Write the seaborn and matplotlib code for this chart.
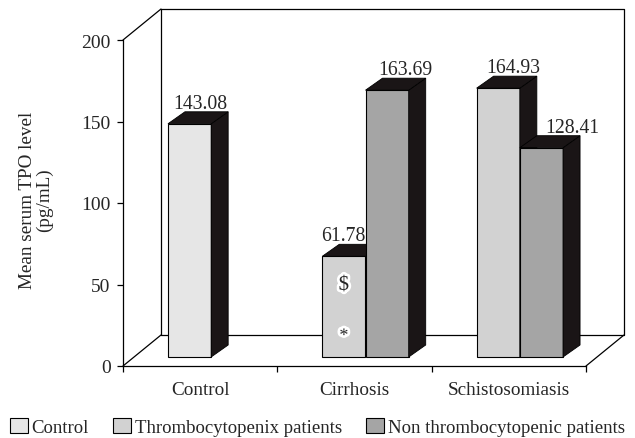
import numpy as np
import pandas as pd
import matplotlib
matplotlib.use("Agg")
import matplotlib.pyplot as plt
import matplotlib.transforms as mtransforms
import matplotlib.patheffects as pe
from matplotlib.patches import Polygon, Rectangle
from matplotlib.lines import Line2D
import seaborn as sns

# ---- data -------------------------------------------------------------
groups = ["Control", "Cirrhosis", "Schistosomiasis"]
series_names = ["Control", "Thrombocytopenix patients", "Non thrombocytopenic patients"]
control_values = [143.08, None, None]
thrombocytopenic_values = [None, 61.78, 164.93]
non_thrombocytopenic_values = [None, 163.69, 128.41]
y_ticks = [0, 50, 100, 150, 200]
y_label = "Mean serum TPO level\n(pg/mL)"

# significance marks drawn inside the cirrhosis thrombocytopenic bar
marks = [("Cirrhosis", "Thrombocytopenix patients", "$", 44),
         ("Cirrhosis", "Thrombocytopenix patients", "*", 13)]

# ---- style ------------------------------------------------------------
series_colors = {"Control": "#e6e6e6",
                 "Thrombocytopenix patients": "#d2d2d2",
                 "Non thrombocytopenic patients": "#a5a5a5"}
series_slot = {"Control": "left",
               "Thrombocytopenix patients": "left",
               "Non thrombocytopenic patients": "right"}
side_color = "#1a1516"
# horizontal nudge (px) of each value label relative to its bar
label_shift = {("Control", "Control"): 2,
               ("Cirrhosis", "Thrombocytopenix patients"): -9,
               ("Cirrhosis", "Non thrombocytopenic patients"): 10,
               ("Schistosomiasis", "Thrombocytopenix patients"): 7,
               ("Schistosomiasis", "Non thrombocytopenic patients"): 22}

rows = []
for name, vals in zip(series_names,
                      [control_values, thrombocytopenic_values, non_thrombocytopenic_values]):
    for g, v in zip(groups, vals):
        if v is not None:
            rows.append({"group": g, "series": name, "slot": series_slot[name], "value": v})
df = pd.DataFrame(rows)

sns.set_style("white")
plt.rcParams["font.family"] = ["Liberation Serif", "DejaVu Serif"]
plt.rcParams["font.size"] = 13.5

DPI = 100
fig = plt.figure(figsize=(6.35, 4.39), dpi=DPI)
W, H = 635, 439
ax = fig.add_axes([123 / W, 72 / H, 463 / W, 326 / H])
ax.patch.set_alpha(0)

sns.barplot(data=df, x="group", y="value", hue="slot", hue_order=["left", "right"],
            order=groups, width=0.56, dodge=True, errorbar=None, legend=False,
            palette={"left": "#d2d2d2", "right": "#a5a5a5"},
            edgecolor="black", linewidth=0.8, ax=ax)

ax.set_xlim(-0.5, 2.5)
ax.set_ylim(0, 200)
ax.set_xlabel("")
ax.set_ylabel("")

# front spines
for s in ["top", "right"]:
    ax.spines[s].set_visible(False)
for s in ["left", "bottom"]:
    ax.spines[s].set_color("black")
    ax.spines[s].set_linewidth(0.9)

ax.set_yticks(y_ticks)
ax.tick_params(axis="y", left=True, direction="out", length=4, width=0.9,
               color="black", pad=5, labelsize=14)
ax.set_xticks(range(len(groups)))
ax.set_xticklabels(groups)
ax.set_xticks(np.arange(-0.5, len(groups), 1.0), minor=True)
ax.tick_params(axis="x", which="major", length=0, pad=11, labelsize=13.8)
ax.tick_params(axis="x", which="minor", bottom=True, direction="out",
               length=4, width=0.9, color="black")

# plane in which the bars stand and the depth of each bar (px)
PLANE_DX, PLANE_DY = 11, 9
DEPTH_DX, DEPTH_DY = 17, 12
WALL_DX, WALL_DY = 38, 31
plane = ax.transData + mtransforms.ScaledTranslation(PLANE_DX / DPI, PLANE_DY / DPI,
                                                     fig.dpi_scale_trans)
ident = mtransforms.IdentityTransform()

# back wall and floor of the 3-D frame
wall = ax.transAxes + mtransforms.ScaledTranslation(WALL_DX / DPI, WALL_DY / DPI,
                                                    fig.dpi_scale_trans)
ax.add_line(Line2D([0, 1, 1, 0, 0], [0, 0, 1, 1, 0], transform=wall, color="black",
                   lw=0.9, clip_on=False, zorder=1))
for cx, cy in [(0, 1), (0, 0), (1, 0)]:
    fx, fy = ax.transAxes.transform((cx, cy))
    ax.add_line(Line2D([fx, fx + WALL_DX], [fy, fy + WALL_DY], transform=ident,
                       color="black", lw=0.9, clip_on=False, zorder=1))

# bars: recolour, move into the bar plane and add side/top faces
bars = [p for p in ax.patches if isinstance(p, Rectangle) and np.isfinite(p.get_height())
        and p.get_height() > 0]
bars.sort(key=lambda p: p.get_x())
bar_info = {}
for i, p in enumerate(bars):
    xc = p.get_x() + p.get_width() / 2
    cat = int(round(xc))
    slot = "left" if xc < cat else "right"
    row = df[(df["group"] == groups[cat]) & (df["slot"] == slot)].iloc[0]
    value = row["value"]
    z = 3 + i * 0.1
    p.set_facecolor(series_colors[row["series"]])
    p.set_transform(plane)
    p.set_zorder(z)
    p.set_clip_on(False)

    x0, x1 = p.get_x(), p.get_x() + p.get_width()
    bx0, by0 = plane.transform((x0, 0))
    bx1, by1 = plane.transform((x1, value))
    side = [(bx1, by0), (bx1 + DEPTH_DX, by0 + DEPTH_DY),
            (bx1 + DEPTH_DX, by1 + DEPTH_DY), (bx1, by1)]
    top = [(bx0, by1), (bx0 + DEPTH_DX, by1 + DEPTH_DY),
           (bx1 + DEPTH_DX, by1 + DEPTH_DY), (bx1, by1)]
    for pts in (side, top):
        ax.add_patch(Polygon(pts, closed=True, transform=ident, facecolor=side_color,
                             edgecolor="black", lw=0.6, clip_on=False, zorder=z + 0.01))
    bar_info[(row["group"], row["series"])] = (xc, value)

    shift = label_shift.get((row["group"], row["series"]), 0)
    lab_tr = plane + mtransforms.ScaledTranslation((DEPTH_DX / 2 + shift) / DPI,
                                                   (DEPTH_DY + 4) / DPI,
                                                   fig.dpi_scale_trans)
    ax.text(xc, value, f"{value:.2f}", transform=lab_tr, ha="center", va="baseline",
            fontsize=14.2, zorder=10, clip_on=False)

for g, s, sym, yv in marks:
    xc, _ = bar_info[(g, s)]
    ax.text(xc, yv, "\\$" if sym == "$" else sym, transform=plane, ha="center",
            va="center", fontsize=15 if sym == "$" else 13, zorder=10,
            path_effects=[pe.withStroke(linewidth=4, foreground="white")])

# axis title
fig.text(36 / W, 1 - 200 / H, y_label, rotation=90, ha="center", va="center",
         multialignment="center", linespacing=0.92, fontsize=13.8)

# legend
handles = [Rectangle((0, 0), 1, 1, facecolor=series_colors[n], edgecolor="black", lw=0.8)
           for n in series_names]
fig.legend(handles, series_names, loc="center", bbox_to_anchor=(0.5, 1 - 428 / H),
           ncol=3, frameon=False, handlelength=0.95, handleheight=0.8,
           handletextpad=0.2, columnspacing=1.3, fontsize=13.5, borderaxespad=0,
           borderpad=0)

fig.savefig("out.png", dpi=DPI)
